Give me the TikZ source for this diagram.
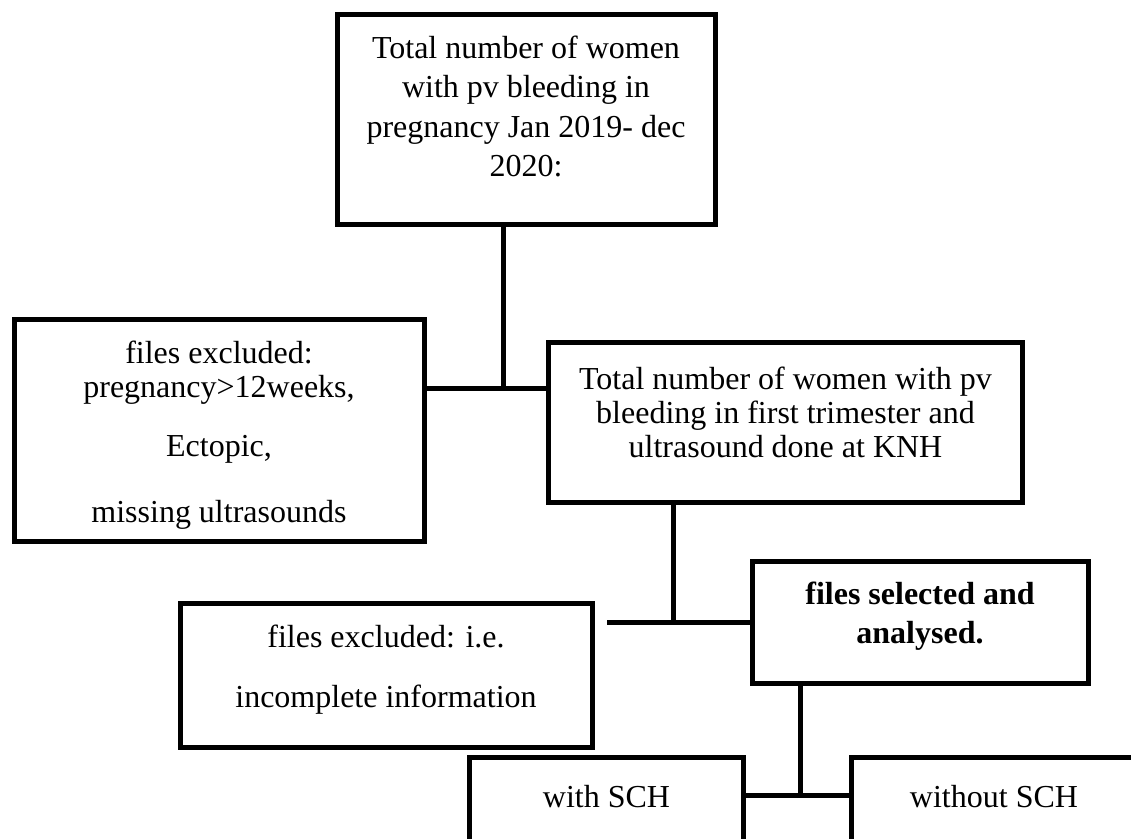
\documentclass[tikz,border=0pt]{standalone}
\usepackage{fontspec}
\setmainfont{Liberation Serif}
\tikzset{
  box/.style={draw, line width=1.875pt, inner sep=0pt},
  link/.style={line width=1.875pt},
  txt/.style={align=center, inner sep=0pt, anchor=north},
}
\begin{document}
\begin{tikzpicture}[x=0.375pt, y=-0.375pt]
\useasboundingbox (0,0) rectangle (1131,838);
\clip (0,0) rectangle (1131,838);

% boxes
\node[box, minimum width=141.75pt, minimum height=78.75pt] (total) at (526,119) {};
\node[box, minimum width=153.75pt, minimum height=83.6pt] (excl) at (219,430.5) {};
\node[box, minimum width=178.1pt, minimum height=60pt] (first) at (785.5,422) {};
\node[box, minimum width=154.5pt, minimum height=54pt] (incompl) at (386,675) {};
\node[box, minimum width=126pt, minimum height=45.75pt] (sel) at (920,622) {};
\node[box, minimum width=103.1pt, minimum height=53.6pt] (sch) at (606.5,828.5) {};
\node[box, minimum width=107.25pt, minimum height=53.6pt] (nosch) at (994,828.5) {};

% texts
\node[txt, font=\fontsize{12}{14.8}\selectfont] (totaltxt) at (526,35)
  {Total number of women\\with pv bleeding in\\pregnancy Jan 2019- dec\\2020:};
\node[txt, font=\fontsize{12}{12.75}\selectfont] (excltxt) at (219,340)
  {files excluded:\\pregnancy>12weeks,\\[9.375pt]Ectopic,\\[12pt]missing ultrasounds};
\node[txt, font=\fontsize{12}{12.75}\selectfont] (firsttxt) at (785.5,366)
  {Total number of women with pv\\bleeding in first trimester and\\ultrasound done at KNH};
\node[txt, font=\fontsize{12}{22.5}\selectfont] (incompltxt) at (386,624)
  {files excluded: i.e.\\incomplete information};
\node[txt, font=\fontsize{12}{14.625}\selectfont\bfseries] (seltxt) at (920,581)
  {files selected and\\analysed.};
\node[txt, font=\fontsize{12}{14}\selectfont] (schtxt) at (606.5,785) {with SCH};
\node[txt, font=\fontsize{12}{14}\selectfont] (noschtxt) at (994,785) {without SCH};

% connectors
\coordinate (j1) at (503,388);
\coordinate (j2) at (673,622);
\coordinate (j2end) at (607,622);
\coordinate (j3) at (800,795);

\draw[link] (j1 |- total.south) -- (j1);
\draw[link] (excl.east |- j1) -- (first.west |- j1);
\draw[link] (j2 |- first.south) -- (j2);
\draw[link] (j2end) -- (sel.west |- j2);
\draw[link] (j3 |- sel.south) -- (j3);
\draw[link] (sch.east |- j3) -- (nosch.west |- j3);
\end{tikzpicture}
\end{document}
